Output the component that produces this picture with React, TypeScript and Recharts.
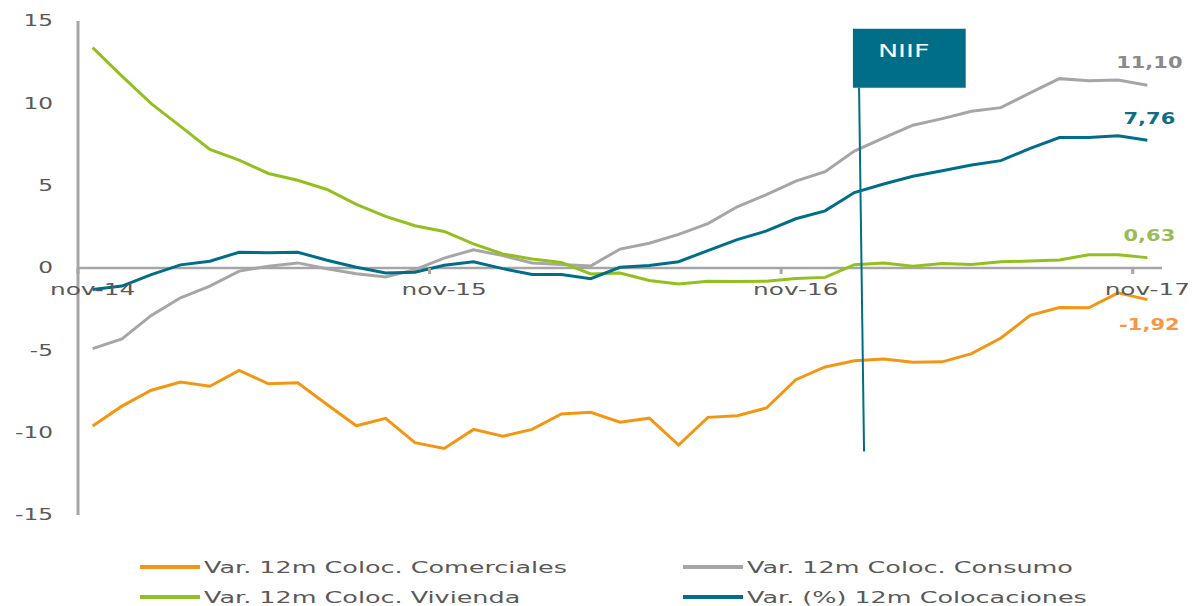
import React from "react";
import { LineChart, Line, XAxis, YAxis, ReferenceLine, ReferenceArea, Legend, LabelList } from "recharts";

const months = [
  "nov-14", "dic-14", "ene-15", "feb-15", "mar-15", "abr-15", "may-15", "jun-15", "jul-15", "ago-15", "sep-15", "oct-15",
  "nov-15", "dic-15", "ene-16", "feb-16", "mar-16", "abr-16", "may-16", "jun-16", "jul-16", "ago-16", "sep-16", "oct-16",
  "nov-16", "dic-16", "ene-17", "feb-17", "mar-17", "abr-17", "may-17", "jun-17", "jul-17", "ago-17", "sep-17", "oct-17",
  "nov-17",
];

const comerciales = [
  -9.6, -8.39, -7.42, -6.93, -7.18, -6.22, -7.03, -6.97, -8.29, -9.58, -9.13, -10.61,
  -10.96, -9.8, -10.22, -9.8, -8.86, -8.76, -9.36, -9.12, -10.75, -9.07, -8.97, -8.5,
  -6.78, -6.01, -5.63, -5.53, -5.72, -5.7, -5.2, -4.25, -2.88, -2.4, -2.42, -1.51, -1.92,
];
const consumo = [
  -4.9, -4.3, -2.88, -1.81, -1.1, -0.19, 0.11, 0.31, -0.05, -0.35, -0.55, -0.1,
  0.6, 1.11, 0.75, 0.3, 0.22, 0.12, 1.15, 1.5, 2.04, 2.7, 3.72, 4.45,
  5.28, 5.85, 7.1, 7.9, 8.67, 9.07, 9.52, 9.74, 10.64, 11.5, 11.37, 11.41, 11.1,
];
const vivienda = [
  13.38, 11.65, 9.98, 8.6, 7.2, 6.55, 5.74, 5.33, 4.77, 3.86, 3.13, 2.57,
  2.22, 1.46, 0.85, 0.55, 0.34, -0.36, -0.3, -0.76, -0.97, -0.8, -0.82, -0.8,
  -0.64, -0.57, 0.2, 0.3, 0.1, 0.27, 0.22, 0.38, 0.42, 0.49, 0.81, 0.8, 0.63,
];
const colocaciones = [
  -1.31, -1.1, -0.4, 0.19, 0.41, 0.96, 0.92, 0.96, 0.47, 0.05, -0.3, -0.26,
  0.17, 0.38, -0.04, -0.4, -0.4, -0.65, 0.04, 0.15, 0.38, 1.06, 1.72, 2.25,
  2.99, 3.47, 4.58, 5.1, 5.57, 5.9, 6.25, 6.52, 7.27, 7.92, 7.93, 8.03, 7.76,
];

const yTicks = [-15, -10, -5, 0, 5, 10, 15];
const xTicks = [0, 12, 24, 36];

// NIIF marker, in data units (month index, %)
const NIIF_BOX = { x1: 25.95, x2: 29.8, y1: 10.95, y2: 14.53 };
const NIIF_LINE = [{ x: 26.16, y: 10.95 }, { x: 26.33, y: -11.15 }];

const SERIES = [
  { key: "comerciales", name: "Var. 12m Coloc. Comerciales", color: "#f39614", labelColor: "#f79646", dy: 30 },
  { key: "consumo", name: "Var. 12m Coloc. Consumo", color: "#a6a6a6", labelColor: "#8a8a8a", dy: -17 },
  { key: "vivienda", name: "Var. 12m Coloc. Vivienda", color: "#92c01f", labelColor: "#9bbb59", dy: -17 },
  { key: "colocaciones", name: "Var. (%) 12m Colocaciones", color: "#006e87", labelColor: "#0d6e85", dy: -16 },
];

const data = months.map((m, i) => ({
  i,
  m,
  comerciales: comerciales[i],
  consumo: consumo[i],
  vivienda: vivienda[i],
  colocaciones: colocaciones[i],
}));

const W = 1192;
const H = 606;
const MARGIN = { top: 21, right: 30, bottom: 0, left: 0 };
const Y_AXIS_W = 78;
const X_AXIS_H = 25;
const LEGEND_H = 66;
const PLOT_BOTTOM = H - LEGEND_H - X_AXIS_H;
const ZERO_Y = MARGIN.top + (PLOT_BOTTOM - MARGIN.top) / 2;
const BAND = (W - MARGIN.right - Y_AXIS_W) / months.length;
const SX = 1.55;
const FONT = "'DejaVu Sans', Verdana, sans-serif";
const TEXT = "#595959";

const YTick = (props: any) => (
  <g transform={`translate(${props.x},${props.y}) scale(${SX},1)`}>
    <text textAnchor="end" dy="0.36em" fontSize={15} fill={TEXT} fontFamily={FONT}>
      {props.payload.value}
    </text>
  </g>
);

const XTick = (props: any) => (
  <g>
    <line x1={props.x - BAND / 2} x2={props.x - BAND / 2} y1={ZERO_Y} y2={ZERO_Y + 6} stroke="#a6a6a6" strokeWidth={3} />
    <g transform={`translate(${props.x},${ZERO_Y + 27}) scale(${SX},1)`}>
      <text textAnchor="middle" fontSize={16} fill={TEXT} fontFamily={FONT}>
        {months[props.payload.value]}
      </text>
    </g>
  </g>
);

const endLabel = (color: string, dy: number) => (props: any) => {
  if (props.index !== months.length - 1) return null;
  const x = props.x ?? props.viewBox?.x;
  const y = props.y ?? props.viewBox?.y;
  const v = Number(props.value).toFixed(2).replace(".", ",");
  return (
    <g transform={`translate(${x + 2},${y + dy}) scale(1.4,1)`}>
      <text textAnchor="middle" fontSize={15} fontWeight="bold" fill={color} fontFamily={FONT}>
        {v}
      </text>
    </g>
  );
};

const niifLabel = (props: any) => {
  const vb = props.viewBox;
  return (
    <g transform={`translate(${vb.x + 25},${vb.y + 28}) scale(1.5,1)`}>
      <text fontSize={18} fill="#ffffff" fontFamily={FONT}>NIIF</text>
    </g>
  );
};

const renderLegend = () => (
  <div style={{ position: "relative", width: W, height: LEGEND_H, fontFamily: FONT }}>
    {SERIES.map((s, k) => (
      <div
        key={s.key}
        style={{
          position: "absolute",
          left: k % 2 ? 683 : 140,
          top: k < 2 ? 17 : 47,
          height: 20,
          display: "flex",
          alignItems: "center",
        }}
      >
        <span style={{ display: "inline-block", width: 60, height: 4, background: s.color, marginRight: 4 }} />
        <span
          style={{
            display: "inline-block",
            transform: "scaleX(1.59)",
            transformOrigin: "left center",
            fontSize: 16,
            color: TEXT,
            whiteSpace: "nowrap",
          }}
        >
          {s.name}
        </span>
      </div>
    ))}
  </div>
);

export default function App() {
  return (
    <div style={{ width: W, height: H, background: "#fff", fontFamily: FONT }}>
      <style>{"body{margin:0}"}</style>
      <LineChart width={W} height={H} data={data} margin={MARGIN}>
        <XAxis
          dataKey="i"
          type="number"
          domain={[-0.5, months.length - 0.5]}
          ticks={xTicks}
          interval={0}
          height={X_AXIS_H}
          axisLine={false}
          tickLine={false}
          tick={<XTick />}
        />
        <YAxis
          type="number"
          domain={[-15, 15]}
          ticks={yTicks}
          interval={0}
          width={Y_AXIS_W}
          tickLine={false}
          tickSize={0}
          tickMargin={25}
          axisLine={{ stroke: "#a6a6a6", strokeWidth: 3 }}
          tick={<YTick />}
        />
        <ReferenceLine y={0} stroke="#a6a6a6" strokeWidth={2.5} />
        <Legend verticalAlign="bottom" content={renderLegend} wrapperStyle={{ left: 0, bottom: 0, width: W, height: LEGEND_H }} />
        {SERIES.map((s) => (
          <Line
            key={s.key}
            type="linear"
            dataKey={s.key}
            name={s.name}
            stroke={s.color}
            strokeWidth={3}
            dot={false}
            isAnimationActive={false}
          >
            <LabelList dataKey={s.key} content={endLabel(s.labelColor, s.dy)} />
          </Line>
        ))}
        <ReferenceArea
          x1={NIIF_BOX.x1}
          x2={NIIF_BOX.x2}
          y1={NIIF_BOX.y1}
          y2={NIIF_BOX.y2}
          fill="#006e87"
          fillOpacity={1}
          stroke="none"
          label={niifLabel}
        />
        <ReferenceLine segment={NIIF_LINE} stroke="#006e87" strokeWidth={2} />
      </LineChart>
    </div>
  );
}
